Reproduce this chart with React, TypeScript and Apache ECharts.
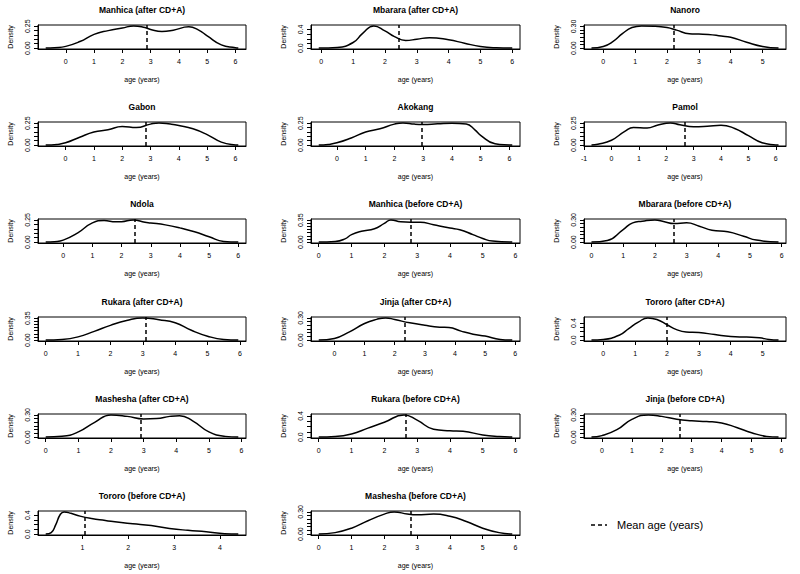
import React, { useEffect, useRef } from "react";
import * as echarts from "echarts";

const FONT = "'Liberation Sans', Arial, Helvetica, sans-serif";

// ---- data ----
const panelTitles = [
  "Manhica (after CD+A)", "Mbarara (after CD+A)", "Nanoro",
  "Gabon", "Akokang", "Pamol",
  "Ndola", "Manhica (before CD+A)", "Mbarara (before CD+A)",
  "Rukara (after CD+A)", "Jinja (after CD+A)", "Tororo (after CD+A)",
  "Mashesha (after CD+A)", "Rukara (before CD+A)", "Jinja (before CD+A)",
  "Tororo (before CD+A)", "Mashesha (before CD+A)",
];

const meanAges = [2.88, 2.43, 2.22, 2.83, 2.96, 2.66, 2.45, 2.82, 2.6, 3.08, 2.32, 1.99, 2.9, 2.65, 2.6, 1.05, 2.8];

const xTickValues: number[][] = [
  [0, 1, 2, 3, 4, 5, 6], [0, 1, 2, 3, 4, 5, 6], [0, 1, 2, 3, 4, 5],
  [0, 1, 2, 3, 4, 5, 6], [0, 1, 2, 3, 4, 5, 6], [-1, 0, 1, 2, 3, 4, 5, 6],
  [0, 1, 2, 3, 4, 5, 6], [0, 1, 2, 3, 4, 5, 6], [0, 1, 2, 3, 4, 5, 6],
  [0, 1, 2, 3, 4, 5, 6], [0, 1, 2, 3, 4, 5, 6], [0, 1, 2, 3, 4, 5],
  [0, 1, 2, 3, 4, 5, 6], [0, 1, 2, 3, 4, 5, 6], [0, 1, 2, 3, 4, 5, 6],
  [1, 2, 3, 4], [0, 1, 2, 3, 4, 5, 6],
];

const yTopLabels = [0.25, 0.4, 0.3, 0.25, 0.25, 0.25, 0.25, 0.35, 0.3, 0.35, 0.3, 0.4, 0.3, 0.4, 0.3, 0.4, 0.3];
const yTickSteps = [0.05, 0.1, 0.05, 0.05, 0.05, 0.05, 0.05, 0.05, 0.05, 0.05, 0.05, 0.1, 0.05, 0.1, 0.05, 0.1, 0.05];
const yLabelDecimals = [2, 1, 2, 2, 2, 2, 2, 2, 2, 2, 2, 1, 2, 1, 2, 1, 2];

const manhicaAfter = [[-0.71, 0], [-0.4, 0.005], [0, 0.02], [0.5, 0.075], [1, 0.157], [1.5, 0.2], [2, 0.23], [2.4, 0.254], [2.8, 0.235], [3, 0.213], [3.4, 0.19], [3.8, 0.205], [4.35, 0.243], [4.7, 0.205], [5, 0.14], [5.5, 0.037], [6, 0.005], [6.1, 0]];
const mbararaAfter = [[-0.08, 0], [0.5, 0.015], [1, 0.12], [1.3, 0.316], [1.65, 0.477], [2, 0.37], [2.3, 0.246], [2.65, 0.165], [3, 0.19], [3.4, 0.225], [4, 0.18], [4.5, 0.105], [5, 0.035], [5.5, 0.007], [6, 0]];
const nanoro = [[-0.37, 0], [0, 0.023], [0.3, 0.09], [0.6, 0.2], [0.9, 0.286], [1.2, 0.309], [1.6, 0.305], [2, 0.286], [2.3, 0.25], [2.7, 0.2], [3, 0.195], [3.3, 0.19], [3.7, 0.168], [4, 0.15], [4.5, 0.082], [5, 0.023], [5.5, 0]];
const gabon = [[-0.7, 0], [-0.3, 0.008], [0, 0.026], [0.5, 0.09], [1, 0.15], [1.5, 0.175], [2, 0.213], [2.5, 0.2], [3, 0.24], [3.3, 0.254], [3.7, 0.24], [4, 0.224], [4.5, 0.187], [5, 0.12], [5.5, 0.034], [6, 0.002], [6.1, 0]];
const akokang = [[-0.63, 0], [-0.3, 0.008], [0, 0.026], [0.5, 0.082], [1, 0.15], [1.5, 0.187], [2, 0.24], [2.3, 0.254], [2.7, 0.24], [3, 0.236], [3.5, 0.243], [4, 0.25], [4.5, 0.24], [4.8, 0.175], [5, 0.112], [5.5, 0.015], [6, 0.001], [6.1, 0]];
const pamol = [[-0.73, 0], [-0.5, 0.01], [0, 0.056], [0.5, 0.16], [0.8, 0.2], [1.3, 0.196], [1.7, 0.23], [2.15, 0.254], [2.5, 0.232], [3, 0.21], [3.5, 0.216], [4, 0.228], [4.5, 0.19], [5, 0.108], [5.5, 0.026], [6, 0.002], [6.1, 0]];
const ndola = [[-0.6, 0], [-0.3, 0.005], [0, 0.022], [0.5, 0.104], [1, 0.216], [1.4, 0.243], [1.8, 0.228], [2, 0.23], [2.4, 0.25], [2.8, 0.224], [3, 0.216], [3.5, 0.194], [4, 0.16], [4.5, 0.116], [5, 0.06], [5.5, 0.007], [6, 0]];
const manhicaBefore = [[0, 0], [0.5, 0.01], [0.8, 0.052], [1, 0.12], [1.3, 0.173], [1.7, 0.215], [2, 0.3], [2.2, 0.356], [2.5, 0.325], [2.8, 0.32], [3.1, 0.32], [3.5, 0.277], [4, 0.225], [4.3, 0.199], [4.7, 0.12], [5, 0.058], [5.3, 0.016], [5.9, 0]];
const mbararaBefore = [[0, 0], [0.5, 0.022], [1, 0.17], [1.3, 0.26], [1.6, 0.282], [2, 0.3], [2.3, 0.274], [2.6, 0.25], [3, 0.26], [3.4, 0.215], [3.8, 0.161], [4.3, 0.139], [4.8, 0.08], [5.2, 0.027], [5.9, 0]];
const rukaraAfter = [[0, 0], [0.5, 0.01], [1, 0.052], [1.5, 0.14], [2, 0.236], [2.5, 0.314], [3, 0.356], [3.5, 0.325], [4, 0.277], [4.5, 0.157], [5, 0.063], [5.5, 0.01], [5.95, 0]];
const jinjaAfter = [[-0.52, 0], [0, 0.022], [0.5, 0.112], [1, 0.224], [1.4, 0.28], [1.7, 0.3], [2, 0.278], [2.5, 0.233], [3, 0.2], [3.5, 0.175], [3.8, 0.17], [4.2, 0.121], [4.6, 0.08], [5, 0.054], [5.5, 0.009], [5.9, 0]];
const tororoAfter = [[-0.37, 0], [0, 0.015], [0.5, 0.115], [0.8, 0.27], [1.1, 0.42], [1.4, 0.52], [1.7, 0.477], [2, 0.36], [2.3, 0.246], [2.6, 0.19], [3, 0.177], [3.5, 0.13], [4, 0.085], [4.5, 0.07], [4.9, 0.054], [5.2, 0.015], [5.5, 0]];
const mashheshaAfter = [[0, 0], [0.5, 0.01], [1, 0.07], [1.5, 0.2], [2, 0.3], [2.5, 0.28], [3, 0.245], [3.4, 0.25], [3.8, 0.28], [4.1, 0.29], [4.5, 0.22], [5, 0.07], [5.5, 0.01], [5.9, 0]];
const rukaraBefore = [[0, 0], [0.5, 0.01], [1, 0.06], [1.5, 0.17], [2, 0.28], [2.6, 0.42], [3, 0.32], [3.5, 0.15], [4, 0.12], [4.4, 0.11], [5, 0.04], [5.5, 0.01], [5.9, 0]];
const jinjaBefore = [[-0.35, 0], [0, 0.02], [0.5, 0.1], [1, 0.24], [1.55, 0.3], [2, 0.28], [2.5, 0.24], [3, 0.22], [3.5, 0.21], [4, 0.19], [4.5, 0.13], [5, 0.06], [5.5, 0.01], [5.9, 0]];
const tororoBefore = [[0.2, 0], [0.32, 0.03], [0.42, 0.2], [0.52, 0.42], [0.6, 0.47], [0.75, 0.44], [0.95, 0.38], [1.2, 0.33], [1.5, 0.29], [1.8, 0.25], [2.1, 0.22], [2.5, 0.18], [2.9, 0.12], [3.3, 0.08], [3.7, 0.05], [4.1, 0.01], [4.4, 0]];
const mashheshaBefore = [[0, 0], [0.5, 0.02], [1, 0.08], [1.5, 0.18], [2, 0.27], [2.3, 0.3], [2.7, 0.27], [3, 0.26], [3.5, 0.27], [4, 0.24], [4.5, 0.17], [5, 0.08], [5.5, 0.02], [5.9, 0]];

const densityCurves = [
  manhicaAfter, mbararaAfter, nanoro,
  gabon, akokang, pamol,
  ndola, manhicaBefore, mbararaBefore,
  rukaraAfter, jinjaAfter, tororoAfter,
  mashheshaAfter, rukaraBefore, jinjaBefore,
  tororoBefore, mashheshaBefore,
];

const legendLabel = "Mean age (years)";

// ---- layout ----
const COL_LEFT = [38, 311, 584];
const COL_WIDTH = [208, 209, 202];
const ROW_TOP = [25, 122, 219, 317, 414, 511];
const BOX_H = 24;

function buildOption() {
  const grid: any[] = [];
  const xAxis: any[] = [];
  const yAxis: any[] = [];
  const series: any[] = [];
  const graphic: any[] = [];

  densityCurves.forEach((curve, i) => {
    const col = i % 3;
    const row = Math.floor(i / 3);
    const left = COL_LEFT[col];
    const width = COL_WIDTH[col];
    const top = ROW_TOP[row];

    const xs = curve.map((p) => p[0]);
    const ys = curve.map((p) => p[1]);
    const xlo = Math.min(...xs), xhi = Math.max(...xs);
    const xr = xhi - xlo;
    const peak = Math.max(...ys);

    const yTicks: number[] = [];
    const step = yTickSteps[i];
    for (let k = 0; k * step <= yTopLabels[i] + 1e-9; k++) yTicks.push(+(k * step).toFixed(4));

    grid.push({ left, top, width, height: BOX_H, show: true, borderColor: "#000", borderWidth: 1, backgroundColor: "transparent" });

    xAxis.push({
      gridIndex: i, type: "value",
      min: xlo - 0.04 * xr, max: xhi + 0.04 * xr,
      axisLine: { show: true, onZero: false, lineStyle: { color: "#000", width: 1 } },
      splitLine: { show: false },
      axisTick: { show: true, length: 4, lineStyle: { color: "#000" }, customValues: xTickValues[i] },
      axisLabel: { customValues: xTickValues[i], fontSize: 7, color: "#000", margin: 9, fontFamily: FONT, formatter: (v: number) => String(v) },
      name: "age (years)", nameLocation: "middle", nameGap: 27,
      nameTextStyle: { fontSize: 7, color: "#000", fontFamily: FONT },
    });

    yAxis.push({
      gridIndex: i, type: "value",
      min: -0.04 * peak, max: 1.04 * peak,
      axisLine: { show: true, onZero: false, lineStyle: { color: "#000", width: 1 } },
      splitLine: { show: false },
      axisTick: { show: true, length: 4, lineStyle: { color: "#000" }, customValues: yTicks },
      axisLabel: {
        customValues: [0, yTopLabels[i]], rotate: 90, fontSize: 7, color: "#000", margin: 7, fontFamily: FONT,
        formatter: (v: number) => v.toFixed(yLabelDecimals[i]),
      },
      name: "Density", nameLocation: "middle", nameRotate: 90, nameGap: 24,
      nameTextStyle: { fontSize: 7, color: "#000", fontFamily: FONT },
    });

    series.push({
      type: "line", xAxisIndex: i, yAxisIndex: i,
      data: curve, smooth: true, symbol: "none",
      lineStyle: { color: "#000", width: 1.5 },
      markLine: {
        silent: true, symbol: ["none", "none"], label: { show: false },
        lineStyle: { color: "#000", type: [4, 3], width: 1.5 },
        data: [{ xAxis: meanAges[i] }],
      },
    });

    graphic.push({
      type: "text", x: left + width / 2, y: top - 15,
      style: { text: panelTitles[i], fontSize: 8.5, fontWeight: "bold", fontFamily: FONT, fill: "#000", align: "center", verticalAlign: "middle" },
    });
  });

  graphic.push({
    type: "line", shape: { x1: 591, y1: 525, x2: 607, y2: 525 },
    style: { stroke: "#000", lineWidth: 1.5, lineDash: [4, 3] },
  });
  graphic.push({
    type: "text", x: 617, y: 525,
    style: { text: legendLabel, fontSize: 11, fontFamily: FONT, fill: "#000", align: "left", verticalAlign: "middle" },
  });

  return { animation: false, backgroundColor: "#fff", grid, xAxis, yAxis, series, graphic };
}

export default function App() {
  const ref = useRef<HTMLDivElement>(null);
  useEffect(() => {
    if (!ref.current) return;
    const chart = echarts.init(ref.current, undefined, { renderer: "svg" });
    chart.setOption(buildOption() as any);
    return () => chart.dispose();
  }, []);
  return <div ref={ref} style={{ position: "absolute", left: 0, top: 0, width: 800, height: 574 }} />;
}
